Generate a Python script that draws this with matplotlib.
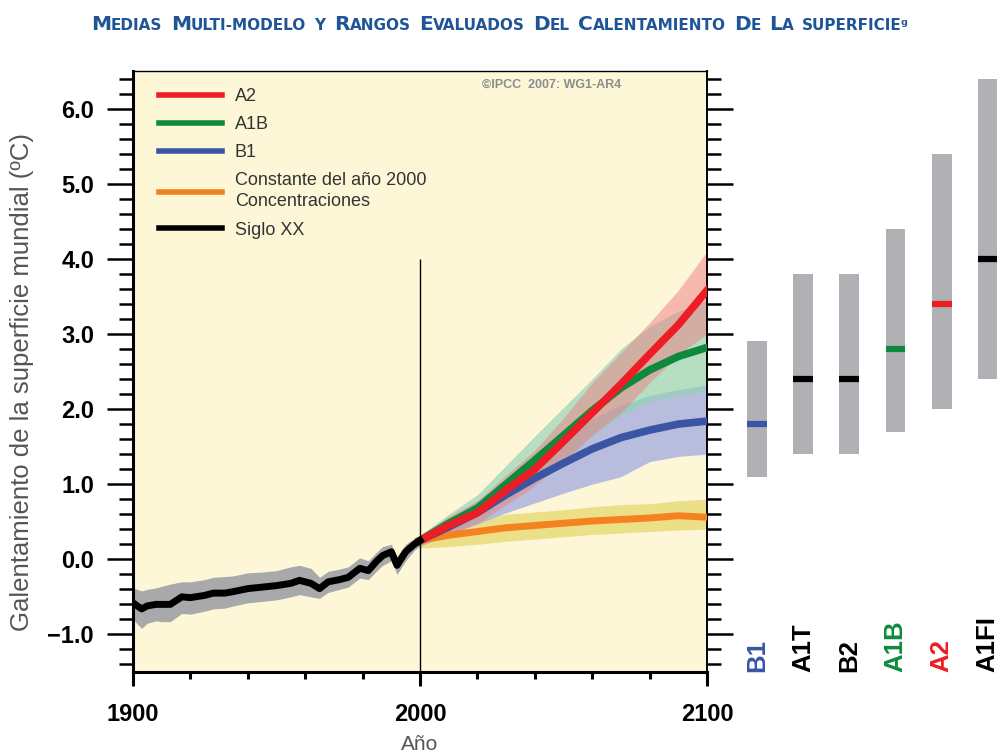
import matplotlib
matplotlib.use('Agg')
import matplotlib.pyplot as plt
from matplotlib.lines import Line2D
from matplotlib.offsetbox import TextArea, HPacker, AnchoredOffsetbox

plt.rcParams['font.family'] = ['Liberation Sans', 'DejaVu Sans']

# --- siglo XX (media + rango) ---
hist_years = [1900, 1903, 1905, 1908, 1910, 1913, 1917, 1920, 1925, 1928, 1932, 1935, 1940, 1945,
              1950, 1955, 1958, 1962, 1965, 1968, 1972, 1975, 1979, 1982, 1985, 1987, 1990, 1992,
              1995, 1998, 2000]
hist_mean = [-0.58, -0.66, -0.62, -0.60, -0.60, -0.60, -0.50, -0.51, -0.48, -0.45, -0.45, -0.43, -0.39,
             -0.37, -0.35, -0.32, -0.28, -0.32, -0.39, -0.30, -0.27, -0.24, -0.12, -0.15, -0.02, 0.05,
             0.10, -0.08, 0.10, 0.20, 0.25]
hist_upper = [-0.38, -0.42, -0.40, -0.38, -0.36, -0.33, -0.30, -0.30, -0.27, -0.24, -0.23, -0.22, -0.18,
              -0.17, -0.15, -0.10, -0.08, -0.12, -0.24, -0.16, -0.13, -0.10, 0.02, -0.02, 0.10, 0.17,
              0.20, 0.04, 0.20, 0.28, 0.30]
hist_lower = [-0.80, -0.92, -0.85, -0.82, -0.83, -0.83, -0.72, -0.73, -0.69, -0.66, -0.65, -0.62, -0.58,
              -0.56, -0.54, -0.50, -0.47, -0.50, -0.52, -0.44, -0.40, -0.37, -0.25, -0.27, -0.15, -0.08,
              -0.02, -0.20, -0.02, 0.12, 0.18]

# --- proyecciones 2000-2100 ---
proj_years = [2000, 2010, 2020, 2030, 2040, 2050, 2060, 2070, 2080, 2090, 2100]
a2_mean = [0.25, 0.45, 0.62, 0.92, 1.20, 1.57, 1.95, 2.33, 2.73, 3.12, 3.58]
a2_lo = [0.18, 0.33, 0.48, 0.72, 0.98, 1.30, 1.65, 1.95, 2.35, 2.72, 3.00]
a2_hi = [0.32, 0.57, 0.78, 1.12, 1.45, 1.88, 2.35, 2.75, 3.15, 3.58, 4.10]
a1b_mean = [0.25, 0.48, 0.68, 1.00, 1.32, 1.65, 1.98, 2.28, 2.52, 2.70, 2.82]
a1b_lo = [0.18, 0.36, 0.50, 0.76, 1.02, 1.32, 1.65, 1.92, 2.10, 2.18, 2.25]
a1b_hi = [0.32, 0.60, 0.86, 1.25, 1.64, 2.02, 2.40, 2.80, 3.10, 3.30, 3.45]
b1_mean = [0.25, 0.43, 0.62, 0.86, 1.08, 1.28, 1.47, 1.62, 1.72, 1.80, 1.84]
b1_lo = [0.18, 0.33, 0.47, 0.62, 0.75, 0.88, 1.00, 1.10, 1.30, 1.37, 1.40]
b1_hi = [0.32, 0.53, 0.78, 1.08, 1.38, 1.62, 1.87, 2.05, 2.18, 2.26, 2.32]
const_mean = [0.25, 0.32, 0.37, 0.42, 0.45, 0.48, 0.51, 0.53, 0.55, 0.58, 0.56]
const_lo = [0.15, 0.17, 0.20, 0.24, 0.27, 0.30, 0.33, 0.35, 0.37, 0.39, 0.40]
const_hi = [0.32, 0.45, 0.52, 0.60, 0.63, 0.66, 0.70, 0.73, 0.74, 0.78, 0.80]

# --- barras de la derecha (rangos evaluados) ---
scen_names = ['B1', 'A1T', 'B2', 'A1B', 'A2', 'A1FI']
scen_best = [1.8, 2.4, 2.4, 2.8, 3.4, 4.0]
scen_low = [1.1, 1.4, 1.4, 1.7, 2.0, 2.4]
scen_high = [2.9, 3.8, 3.8, 4.4, 5.4, 6.4]

RED = '#ee1c25'
GREEN = '#0f8a3d'
BLUE = '#3a55a4'
ORANGE = '#f58220'
scen_colors = [BLUE, 'black', 'black', GREEN, RED, 'black']

fig = plt.figure(figsize=(9.97, 7.55), dpi=100)
fig.set_facecolor('white')

ax = fig.add_axes([133 / 997, 1 - 672 / 755, 574 / 997, 601 / 755])
ax.set_facecolor('#fdf7d8')

# bandas
ax.fill_between(hist_years, hist_lower, hist_upper, color='#a8a9ab', lw=0, zorder=2)
ax.fill_between(proj_years, const_lo, const_hi, color='#e6d86e', alpha=0.75, lw=0, zorder=2)
ax.fill_between(proj_years, b1_lo, b1_hi, color='#aeb3de', alpha=0.85, lw=0, zorder=2)
ax.fill_between(proj_years, a1b_lo, a1b_hi, color='#8fd3b4', alpha=0.65, lw=0, zorder=2)
ax.fill_between(proj_years, a2_lo, a2_hi, color='#f07c86', alpha=0.5, lw=0, zorder=2)

# medias
ax.plot(proj_years, const_mean, color=ORANGE, lw=5, zorder=4)
ax.plot(proj_years, b1_mean, color=BLUE, lw=5.5, zorder=4)
ax.plot(proj_years, a1b_mean, color=GREEN, lw=5.5, zorder=4)
ax.plot(proj_years, a2_mean, color=RED, lw=5.5, zorder=5)
ax.plot(hist_years, hist_mean, color='black', lw=5, zorder=5)

ax.vlines(2000, -1.5, 4.0, color='black', lw=1, zorder=6)

ax.set_xlim(1900, 2100)
ax.set_ylim(-1.5, 6.5)
ax.set_xticks([1900, 2000, 2100])
ax.set_xticks(range(1920, 2100, 20), minor=True)
ax.set_yticks([-1, 0, 1, 2, 3, 4, 5, 6])
ax.set_yticks([v / 10 for v in range(-14, 65, 2)], minor=True)
ax.set_yticklabels([f'{v:.1f}'.replace('-', '\u2212') for v in [-1, 0, 1, 2, 3, 4, 5, 6]])
ax.tick_params(axis='y', which='major', direction='out', length=19, width=1.8, right=True,
               labelsize=17, pad=9)
ax.tick_params(axis='y', which='minor', direction='out', length=10, width=1.8, right=True)
ax.tick_params(axis='x', which='major', direction='out', length=10, width=2.2, labelsize=17, pad=12)
ax.tick_params(axis='x', which='minor', direction='out', length=5, width=2.2)
for lab in ax.get_xticklabels() + ax.get_yticklabels():
    lab.set_fontweight('bold')
ax.spines['left'].set_linewidth(2.2)
ax.spines['bottom'].set_linewidth(2.2)
ax.spines['top'].set_linewidth(1.0)
ax.spines['right'].set_linewidth(1.4)

# leyenda
handles = [Line2D([], [], color=RED, lw=4),
           Line2D([], [], color=GREEN, lw=4),
           Line2D([], [], color=BLUE, lw=4),
           Line2D([], [], color=ORANGE, lw=4),
           Line2D([], [], color='black', lw=4)]
labels = ['A2', 'A1B', 'B1', 'Constante del año 2000\nConcentraciones', 'Siglo XX']
leg = ax.legend(handles, labels, loc='upper left', bbox_to_anchor=(0.045, 0.972), frameon=False,
                fontsize=13, handlelength=3.5, handletextpad=0.7, labelspacing=0.62,
                borderaxespad=0, borderpad=0)
for t in leg.get_texts():
    t.set_color('#333333')
    t.set_linespacing(1.3)

ax.text(0.85, 0.977, '©IPCC  2007: WG1-AR4', transform=ax.transAxes, ha='right', va='center',
        fontsize=9, fontweight='bold', color='#8c8c8c')

# barras de la derecha
ax2 = fig.add_axes([720 / 997, 1 - 672 / 755, 277 / 997, 601 / 755])
ax2.set_xlim(-0.8, 5.2)
ax2.set_ylim(-1.5, 6.5)
ax2.axis('off')
xpos = range(len(scen_names))
heights = [h - l for h, l in zip(scen_high, scen_low)]
ax2.bar(xpos, heights, bottom=scen_low, width=0.43, color='#b0b1b4')
for i, name in enumerate(scen_names):
    ax2.hlines(scen_best[i], i - 0.215, i + 0.215, color=scen_colors[i], lw=4.5)
    ax2.text(i, -1.5, name, rotation=90, ha='center', va='bottom', fontsize=18.5,
             fontweight='bold', color=scen_colors[i], clip_on=False)

# etiquetas de ejes
fig.text(22 / 997, 1 - 382 / 755, 'Galentamiento de la superficie mundial (ºC)', rotation=90,
         ha='center', va='center', fontsize=18.5, color='#555555')
fig.text(420 / 997, 1 - 745 / 755, 'Año', ha='center', va='center', fontsize=15, color='#555555')

# titulo en versalitas
title_color = '#1f5597'
tfam = ['DejaVu Sans']
big = dict(fontsize=14.5, fontweight='bold', color=title_color, family=tfam)
small = dict(fontsize=11, fontweight='bold', color=title_color, family=tfam)
title_words = [('M', 'EDIAS'), ('M', 'ULTI-MODELO'), ('', 'Y'), ('R', 'ANGOS'), ('E', 'VALUADOS'),
               ('D', 'EL'), ('C', 'ALENTAMIENTO'), ('D', 'E'), ('L', 'A'), ('', 'SUPERFICIE\u1d4d')]
word_boxes = []
for cap, rest in title_words:
    parts = []
    if cap:
        parts.append(TextArea(cap, textprops=big))
    parts.append(TextArea(rest, textprops=small))
    word_boxes.append(HPacker(children=parts, align='baseline', pad=0, sep=0))
title_box = HPacker(children=word_boxes, align='baseline', pad=0, sep=6)
anchored = AnchoredOffsetbox(loc='center', child=title_box, pad=0, frameon=False,
                             bbox_to_anchor=(500 / 997, 1 - 25 / 755),
                             bbox_transform=fig.transFigure, borderpad=0)
fig.add_artist(anchored)

fig.savefig('out.png', dpi=100)
